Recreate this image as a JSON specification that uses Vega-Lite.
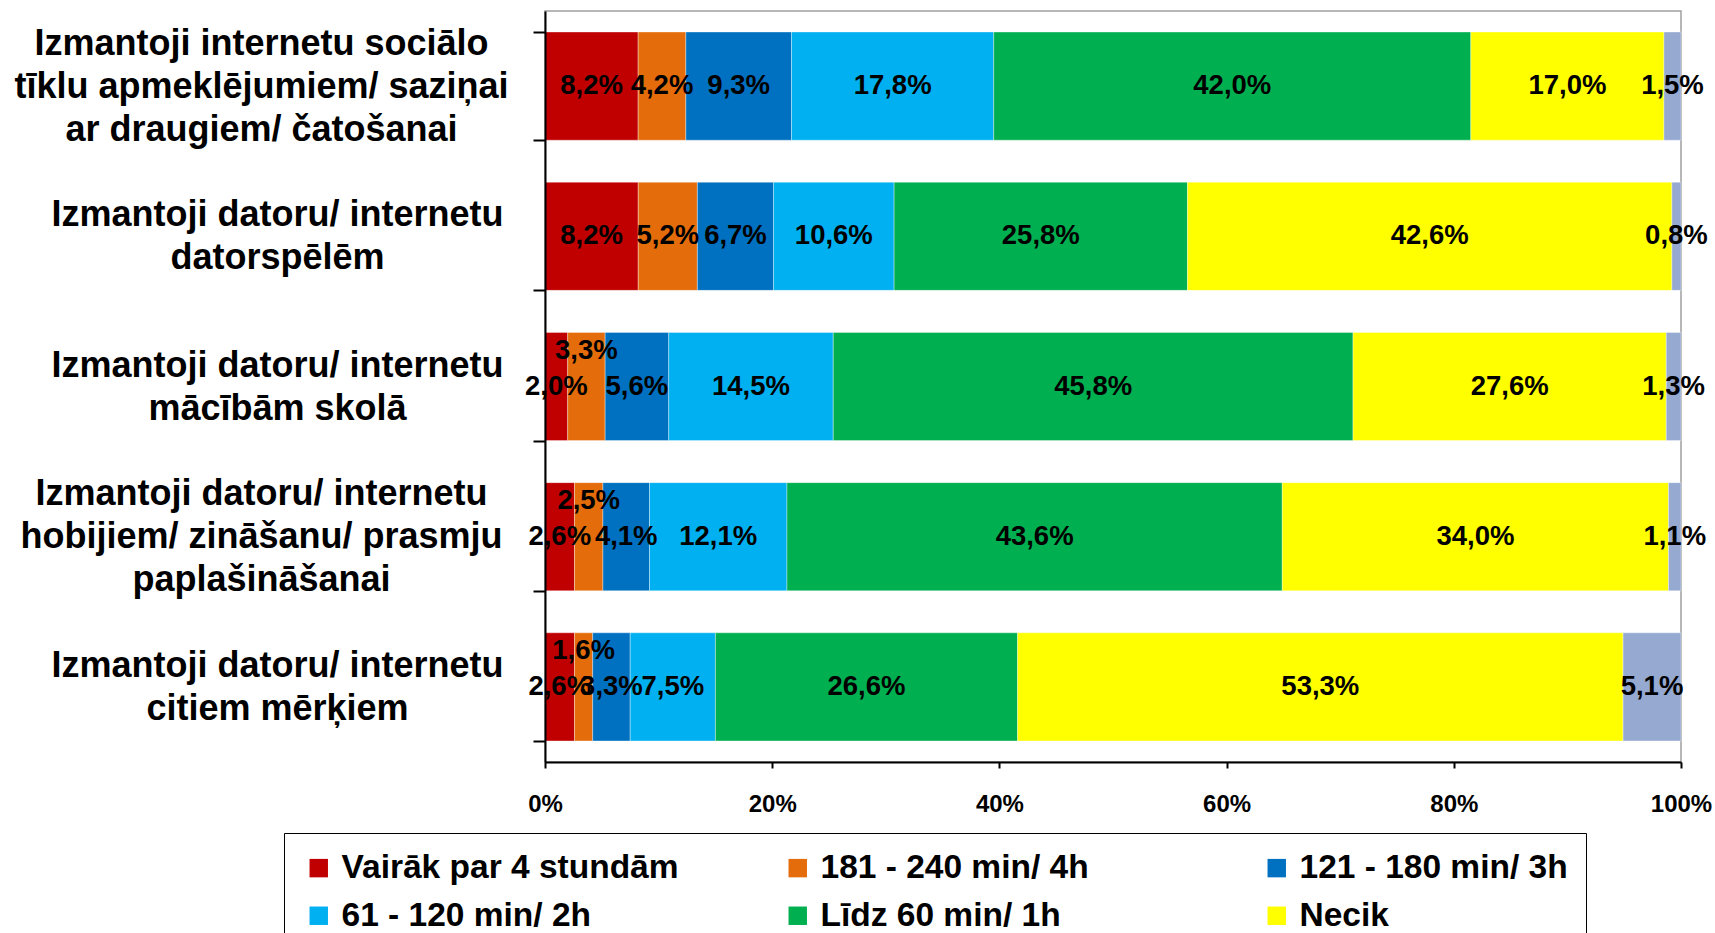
{
  "$schema": "https://vega.github.io/schema/vega-lite/v6.json",
  "width": 1136,
  "height": 751,
  "autosize": {"type": "none"},
  "padding": {"left": 545, "top": 11, "right": 34, "bottom": 171},
  "background": "white",
  "config": {
    "locale": {"number": {"decimal": ",", "thousands": " ", "grouping": [3], "currency": ["", " €"]}},
    "view": {"stroke": "#a0a0a0", "strokeWidth": 1.5},
    "font": "Liberation Sans"
  },
  "data": {
    "values": [
      {"cat": "Izmantoji internetu sociālo|tīklu apmeklējumiem/ saziņai|ar draugiem/ čatošanai", "s": "Vairāk par 4 stundām", "o": 1, "v": 0.082},
      {"cat": "Izmantoji internetu sociālo|tīklu apmeklējumiem/ saziņai|ar draugiem/ čatošanai", "s": "181 - 240 min/ 4h", "o": 2, "v": 0.042},
      {"cat": "Izmantoji internetu sociālo|tīklu apmeklējumiem/ saziņai|ar draugiem/ čatošanai", "s": "121 - 180 min/ 3h", "o": 3, "v": 0.093},
      {"cat": "Izmantoji internetu sociālo|tīklu apmeklējumiem/ saziņai|ar draugiem/ čatošanai", "s": "61 - 120 min/ 2h", "o": 4, "v": 0.178},
      {"cat": "Izmantoji internetu sociālo|tīklu apmeklējumiem/ saziņai|ar draugiem/ čatošanai", "s": "Līdz 60 min/ 1h", "o": 5, "v": 0.420},
      {"cat": "Izmantoji internetu sociālo|tīklu apmeklējumiem/ saziņai|ar draugiem/ čatošanai", "s": "Necik", "o": 6, "v": 0.170},
      {"cat": "Izmantoji internetu sociālo|tīklu apmeklējumiem/ saziņai|ar draugiem/ čatošanai", "s": "Nav atbildes", "o": 7, "v": 0.015},

      {"cat": "Izmantoji datoru/ internetu|datorspēlēm", "s": "Vairāk par 4 stundām", "o": 1, "v": 0.082},
      {"cat": "Izmantoji datoru/ internetu|datorspēlēm", "s": "181 - 240 min/ 4h", "o": 2, "v": 0.052},
      {"cat": "Izmantoji datoru/ internetu|datorspēlēm", "s": "121 - 180 min/ 3h", "o": 3, "v": 0.067},
      {"cat": "Izmantoji datoru/ internetu|datorspēlēm", "s": "61 - 120 min/ 2h", "o": 4, "v": 0.106},
      {"cat": "Izmantoji datoru/ internetu|datorspēlēm", "s": "Līdz 60 min/ 1h", "o": 5, "v": 0.258},
      {"cat": "Izmantoji datoru/ internetu|datorspēlēm", "s": "Necik", "o": 6, "v": 0.426},
      {"cat": "Izmantoji datoru/ internetu|datorspēlēm", "s": "Nav atbildes", "o": 7, "v": 0.008},

      {"cat": "Izmantoji datoru/ internetu|mācībām skolā", "s": "Vairāk par 4 stundām", "o": 1, "v": 0.020},
      {"cat": "Izmantoji datoru/ internetu|mācībām skolā", "s": "181 - 240 min/ 4h", "o": 2, "v": 0.033},
      {"cat": "Izmantoji datoru/ internetu|mācībām skolā", "s": "121 - 180 min/ 3h", "o": 3, "v": 0.056},
      {"cat": "Izmantoji datoru/ internetu|mācībām skolā", "s": "61 - 120 min/ 2h", "o": 4, "v": 0.145},
      {"cat": "Izmantoji datoru/ internetu|mācībām skolā", "s": "Līdz 60 min/ 1h", "o": 5, "v": 0.458},
      {"cat": "Izmantoji datoru/ internetu|mācībām skolā", "s": "Necik", "o": 6, "v": 0.276},
      {"cat": "Izmantoji datoru/ internetu|mācībām skolā", "s": "Nav atbildes", "o": 7, "v": 0.013},

      {"cat": "Izmantoji datoru/ internetu|hobijiem/ zināšanu/ prasmju|paplašināšanai", "s": "Vairāk par 4 stundām", "o": 1, "v": 0.026},
      {"cat": "Izmantoji datoru/ internetu|hobijiem/ zināšanu/ prasmju|paplašināšanai", "s": "181 - 240 min/ 4h", "o": 2, "v": 0.025},
      {"cat": "Izmantoji datoru/ internetu|hobijiem/ zināšanu/ prasmju|paplašināšanai", "s": "121 - 180 min/ 3h", "o": 3, "v": 0.041},
      {"cat": "Izmantoji datoru/ internetu|hobijiem/ zināšanu/ prasmju|paplašināšanai", "s": "61 - 120 min/ 2h", "o": 4, "v": 0.121},
      {"cat": "Izmantoji datoru/ internetu|hobijiem/ zināšanu/ prasmju|paplašināšanai", "s": "Līdz 60 min/ 1h", "o": 5, "v": 0.436},
      {"cat": "Izmantoji datoru/ internetu|hobijiem/ zināšanu/ prasmju|paplašināšanai", "s": "Necik", "o": 6, "v": 0.340},
      {"cat": "Izmantoji datoru/ internetu|hobijiem/ zināšanu/ prasmju|paplašināšanai", "s": "Nav atbildes", "o": 7, "v": 0.011},

      {"cat": "Izmantoji datoru/ internetu|citiem mērķiem", "s": "Vairāk par 4 stundām", "o": 1, "v": 0.026},
      {"cat": "Izmantoji datoru/ internetu|citiem mērķiem", "s": "181 - 240 min/ 4h", "o": 2, "v": 0.016},
      {"cat": "Izmantoji datoru/ internetu|citiem mērķiem", "s": "121 - 180 min/ 3h", "o": 3, "v": 0.033},
      {"cat": "Izmantoji datoru/ internetu|citiem mērķiem", "s": "61 - 120 min/ 2h", "o": 4, "v": 0.075},
      {"cat": "Izmantoji datoru/ internetu|citiem mērķiem", "s": "Līdz 60 min/ 1h", "o": 5, "v": 0.266},
      {"cat": "Izmantoji datoru/ internetu|citiem mērķiem", "s": "Necik", "o": 6, "v": 0.533},
      {"cat": "Izmantoji datoru/ internetu|citiem mērķiem", "s": "Nav atbildes", "o": 7, "v": 0.051}
    ]
  },
  "transform": [
    {"stack": "v", "groupby": ["cat"], "sort": [{"field": "o", "order": "ascending"}], "as": ["v0", "v1"], "offset": "normalize"},
    {"calculate": "(datum.v0 + datum.v1) / 2", "as": "vm"}
  ],
  "encoding": {
    "y": {
      "field": "cat",
      "type": "nominal",
      "sort": null,
      "scale": {"paddingInner": 0.28, "paddingOuter": 0.14},
      "axis": {
        "title": null,
        "labelExpr": "datum.value ? split(datum.value, '|') : ''",
        "labelAlign": "center",
        "labelBaseline": "middle",
        "labelPadding": {
          "condition": {"test": "isString(datum.value) && (indexof(datum.value, 'sociālo') >= 0 || indexof(datum.value, 'hobijiem') >= 0)", "value": 272},
          "value": 256
        },
        "labelOffset": {
          "condition": {"test": "isString(datum.value) && (indexof(datum.value, 'sociālo') >= 0 || indexof(datum.value, 'hobijiem') >= 0)", "value": -43},
          "value": -21.5
        },
        "labelLimit": 700,
        "labelFontSize": 36,
        "labelFontWeight": "bold",
        "labelColor": "black",
        "labelLineHeight": 43,
        "tickSize": 12,
        "tickBand": "extent",
        "tickColor": "black",
        "tickWidth": 2,
        "domainColor": "black",
        "domainWidth": 2,
        "zindex": 1
      }
    }
  },
  "layer": [
    {
      "mark": {"type": "bar", "stroke": "white", "strokeWidth": 0.6, "strokeOpacity": 0.6},
      "encoding": {
        "x": {
          "field": "v0",
          "type": "quantitative",
          "scale": {"domain": [0, 1], "nice": false},
          "axis": {
            "title": null,
            "values": [0, 0.2, 0.4, 0.6, 0.8, 1],
            "format": "%",
            "grid": false,
            "tickSize": 6,
            "tickColor": "black",
            "tickWidth": 2,
            "domainColor": "black",
            "domainWidth": 2,
            "labelFontSize": 24,
            "labelFontWeight": "bold",
            "labelColor": "black",
            "labelPadding": 24,
            "labelFlush": false,
            "zindex": 1
          }
        },
        "x2": {"field": "v1"},
        "color": {
          "field": "s",
          "type": "nominal",
          "scale": {
            "domain": ["Vairāk par 4 stundām", "181 - 240 min/ 4h", "121 - 180 min/ 3h", "61 - 120 min/ 2h", "Līdz 60 min/ 1h", "Necik", "Nav atbildes"],
            "range": ["#C00000", "#E46C0A", "#0070C0", "#00B0F0", "#00B050", "#FFFF00", "#95A9D1"]
          },
          "legend": {
            "title": null,
            "values": ["Vairāk par 4 stundām", "61 - 120 min/ 2h", "181 - 240 min/ 4h", "Līdz 60 min/ 1h", "121 - 180 min/ 3h", "Necik"],
            "orient": "none",
            "legendX": -261,
            "legendY": 822,
            "columns": 3,
            "gridAlign": "all",
            "columnPadding": 102,
            "rowPadding": 13,
            "padding": 18,
            "strokeColor": "black",
            "symbolType": "square",
            "symbolSize": 340,
            "symbolStrokeWidth": 0,
            "labelFontSize": 33.5,
            "labelFontWeight": "bold",
            "labelColor": "black",
            "labelOffset": 6,
            "labelLimit": 600
          }
        }
      }
    },
    {
      "transform": [{"filter": "!(datum.s == '181 - 240 min/ 4h' && datum.v < 0.04)"}],
      "mark": {"type": "text", "fontSize": 27.5, "fontWeight": "bold", "color": "black", "baseline": "middle", "align": "center"},
      "encoding": {
        "x": {"field": "vm", "type": "quantitative"},
        "text": {"field": "v", "type": "quantitative", "format": ".1%"}
      }
    },
    {
      "transform": [{"filter": "datum.s == '181 - 240 min/ 4h' && datum.v < 0.04"}],
      "mark": {"type": "text", "fontSize": 27.5, "fontWeight": "bold", "color": "black", "baseline": "middle", "align": "center", "dy": -36},
      "encoding": {
        "x": {"field": "vm", "type": "quantitative"},
        "text": {"field": "v", "type": "quantitative", "format": ".1%"}
      }
    }
  ]
}
